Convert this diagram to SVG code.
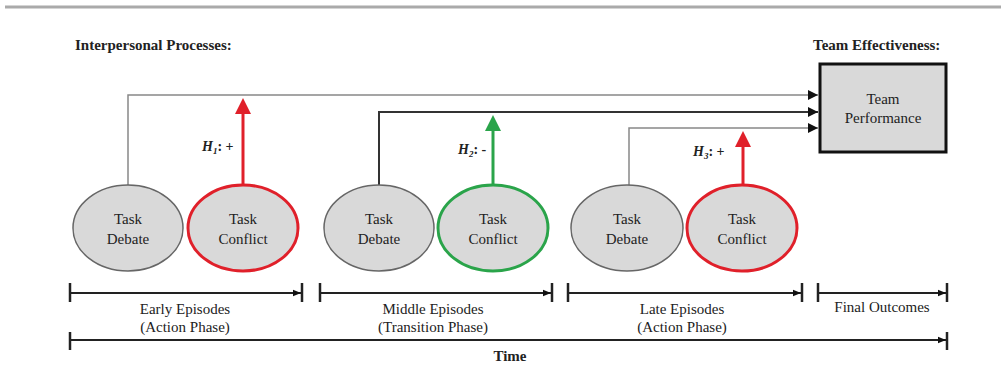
<svg xmlns="http://www.w3.org/2000/svg" width="1001" height="375" viewBox="0 0 1001 375" font-family="'Liberation Serif', 'DejaVu Serif', serif">
<defs>
<style>
text{font-family:'Liberation Serif','Times New Roman','DejaVu Serif',serif;fill:#222}
.t{font-size:15px;text-anchor:middle}
.b{font-size:15px;font-weight:bold}
.l{font-size:15px;text-anchor:middle}
.h{font-size:14px;font-weight:bold;font-style:italic}
.deb{fill:#d9d9d9;stroke:#666;stroke-width:1.5}
.red{fill:#d9d9d9;stroke:#e0202a;stroke-width:3}
.grn{fill:#d9d9d9;stroke:#2aa44a;stroke-width:3}
.con{fill:none;stroke:#888;stroke-width:1.5}
.con2{fill:none;stroke:#333;stroke-width:2}
.tl{stroke:#222;stroke-width:2;fill:none}
.tk{stroke:#222;stroke-width:2.5}
</style>
<marker id="ah" viewBox="0 0 10 10" refX="10" refY="5" markerWidth="10" markerHeight="10" markerUnits="userSpaceOnUse" orient="auto"><path d="M0,0L10,5L0,10z" fill="#111"/></marker>
<marker id="ahs" viewBox="0 0 10 10" refX="10" refY="5" markerWidth="8" markerHeight="8" markerUnits="userSpaceOnUse" orient="auto"><path d="M0,1L10,5L0,9z" fill="#111"/></marker>
</defs>
<rect width="1001" height="375" fill="#fff"/>
<line x1="5" y1="7" x2="1001" y2="7" stroke="#aaa" stroke-width="3"/>
<text class="b" x="75" y="50">Interpersonal Processes:</text>
<text class="b" x="813" y="50">Team Effectiveness:</text>

<g id="connectors">
<path class="con" d="M128,185V95H818" marker-end="url(#ah)"/>
<path class="con2" d="M379,185V112H818" marker-end="url(#ah)"/>
<path class="con" d="M629,185V128H818" marker-end="url(#ah)"/>
<line x1="243" y1="185" x2="243" y2="112" stroke="#e0202a" stroke-width="3"/>
<path d="M243,98L251,114H235z" fill="#e0202a"/>
<line x1="493" y1="185" x2="493" y2="128" stroke="#2aa44a" stroke-width="3"/>
<path d="M493,115L501,131H485z" fill="#2aa44a"/>
<line x1="743" y1="185" x2="743" y2="145" stroke="#e0202a" stroke-width="3"/>
<path d="M743,131L751,147H735z" fill="#e0202a"/>
<text class="h" x="202" y="151">H<tspan dy="3" font-size="9">1</tspan><tspan dy="-3" font-style="normal">: +</tspan></text>
<text class="h" x="458" y="154">H<tspan dy="3" font-size="9">2</tspan><tspan dy="-3" font-style="normal">: -</tspan></text>
<text class="h" x="693" y="156">H<tspan dy="3" font-size="9">3</tspan><tspan dy="-3" font-style="normal">: +</tspan></text>
</g>

<g id="debate1"><ellipse class="deb" cx="128" cy="228" rx="55" ry="43"/><text class="t" x="128" y="224">Task</text><text class="t" x="128" y="244">Debate</text></g>
<g id="conflict1"><ellipse class="red" cx="243" cy="228" rx="55" ry="43"/><text class="t" x="243" y="224">Task</text><text class="t" x="243" y="244">Conflict</text></g>
<g id="debate2"><ellipse class="deb" cx="379" cy="228" rx="55" ry="43"/><text class="t" x="379" y="224">Task</text><text class="t" x="379" y="244">Debate</text></g>
<g id="conflict2"><ellipse class="grn" cx="493" cy="228" rx="55" ry="43"/><text class="t" x="493" y="224">Task</text><text class="t" x="493" y="244">Conflict</text></g>
<g id="debate3"><ellipse class="deb" cx="627" cy="228" rx="56" ry="43"/><text class="t" x="627" y="224">Task</text><text class="t" x="627" y="244">Debate</text></g>
<g id="conflict3"><ellipse class="red" cx="742" cy="228" rx="55" ry="43"/><text class="t" x="742" y="224">Task</text><text class="t" x="742" y="244">Conflict</text></g>

<g id="performance"><rect x="820" y="64" width="126" height="88" fill="#d9d9d9" stroke="#111" stroke-width="3"/><text class="t" x="883" y="104">Team</text><text class="t" x="883" y="123">Performance</text></g>

<g id="timeline">
<line class="tk" x1="70" y1="283" x2="70" y2="302"/><line class="tl" x1="70" y1="293" x2="301" y2="293" marker-end="url(#ahs)"/><line class="tk" x1="302" y1="283" x2="302" y2="302"/>
<line class="tk" x1="320" y1="283" x2="320" y2="302"/><line class="tl" x1="320" y1="293" x2="551" y2="293" marker-end="url(#ahs)"/><line class="tk" x1="552" y1="283" x2="552" y2="302"/>
<line class="tk" x1="568" y1="283" x2="568" y2="302"/><line class="tl" x1="568" y1="293" x2="801" y2="293" marker-end="url(#ahs)"/><line class="tk" x1="802" y1="283" x2="802" y2="302"/>
<line class="tk" x1="818" y1="283" x2="818" y2="302"/><line class="tl" x1="818" y1="293" x2="946" y2="293" marker-end="url(#ahs)"/><line class="tk" x1="947" y1="283" x2="947" y2="302"/>
<line class="tk" x1="70" y1="332" x2="70" y2="350"/><line class="tl" x1="70" y1="340" x2="946" y2="340" marker-end="url(#ahs)"/><line class="tk" x1="947" y1="332" x2="947" y2="350"/>
<text class="l" x="185" y="314">Early Episodes</text><text class="l" x="185" y="332">(Action Phase)</text>
<text class="l" x="433" y="314">Middle Episodes</text><text class="l" x="433" y="332">(Transition Phase)</text>
<text class="l" x="682" y="314">Late Episodes</text><text class="l" x="682" y="332">(Action Phase)</text>
<text class="l" x="882" y="312">Final Outcomes</text>
<text class="b" x="510" y="361" text-anchor="middle">Time</text>
</g>
</svg>
